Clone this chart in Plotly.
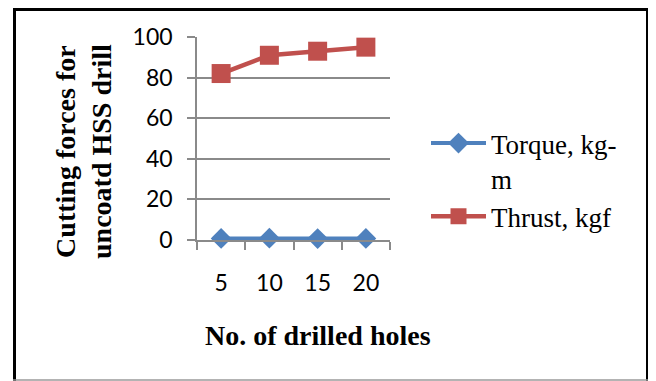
import plotly.graph_objects as go

holes = ["5", "10", "15", "20"]
torque = [0.8, 0.9, 0.7, 0.8]
thrust = [82, 91, 93, 95]
y_ticks = [0, 20, 40, 60, 80, 100]

W, H = 648, 373
L, R, T, B = 189, 266, 29, 141
pw, ph = W - L - R, H - T - B

def px(x):
    return (x - L) / pw

def py(y):
    return (H - B - y) / ph

GRID = "#8A8A8A"

fig = go.Figure()
fig.add_trace(go.Scatter(x=holes, y=torque, name="Torque, kg-<br>m", mode="lines+markers",
                         line=dict(color="#4F81BD", width=4),
                         marker=dict(symbol="diamond", size=16, color="#4F81BD"),
                         cliponaxis=False))
fig.add_trace(go.Scatter(x=holes, y=thrust, name="Thrust, kgf", mode="lines+markers",
                         line=dict(color="#C0504D", width=4.5),
                         marker=dict(symbol="square", size=19, color="#C0504D"),
                         cliponaxis=False))

fig.update_layout(
    width=W, height=H,
    margin=dict(l=L, r=R, t=T, b=B),
    paper_bgcolor="white", plot_bgcolor="white",
    showlegend=True,
    legend=dict(x=px(418), y=py(111), xanchor="left", yanchor="top",
                font=dict(family="Liberation Serif", size=27, color="black"),
                itemwidth=55, tracegroupgap=0, valign="top",
                bgcolor="rgba(0,0,0,0)"),
    xaxis=dict(type="category", range=[-0.5, 3.5], tickson="boundaries",
               ticks="outside", ticklen=8, tickcolor=GRID, tickwidth=1.5,
               showline=True, linecolor=GRID, linewidth=1.5,
               showgrid=False, zeroline=False,
               tickfont=dict(family="Lato", size=23, color="black"),
               ticklabelstandoff=22),
    yaxis=dict(range=[0, 100], tickvals=y_ticks,
               ticks="outside", ticklen=8, tickcolor=GRID, tickwidth=1.5,
               showline=True, linecolor=GRID, linewidth=1.5,
               showgrid=True, gridcolor=GRID, gridwidth=1.5, zeroline=False,
               tickfont=dict(family="Lato", size=23, color="black"),
               ticklabelstandoff=10),
    shapes=[
        dict(type="line", xref="paper", yref="paper", x0=px(6.5), x1=px(6.5), y0=py(0), y1=py(373),
             line=dict(color="black", width=3)),
        dict(type="line", xref="paper", yref="paper", x0=px(5), x1=px(641), y0=py(1.5), y1=py(1.5),
             line=dict(color="black", width=3)),
        dict(type="line", xref="paper", yref="paper", x0=px(639.5), x1=px(639.5), y0=py(0), y1=py(373),
             line=dict(color="black", width=3)),
        dict(type="line", xref="paper", yref="paper", x0=px(5), x1=px(641), y0=py(372), y1=py(372),
             line=dict(color="#9A9A9A", width=1.5)),
    ],
    annotations=[
        dict(text="<b>Cutting forces for<br>uncoatd HSS drill</b>", xref="paper", yref="paper",
             x=px(75), y=py(144), xanchor="center", yanchor="middle", textangle=-90,
             showarrow=False, font=dict(family="Liberation Serif", size=28, color="black")),
        dict(text="<b>No. of drilled holes</b>", xref="paper", yref="paper",
             x=px(310), y=py(327), xanchor="center", yanchor="middle",
             showarrow=False, font=dict(family="Liberation Serif", size=28, color="black")),
    ],
)

fig.write_html("out.html")
